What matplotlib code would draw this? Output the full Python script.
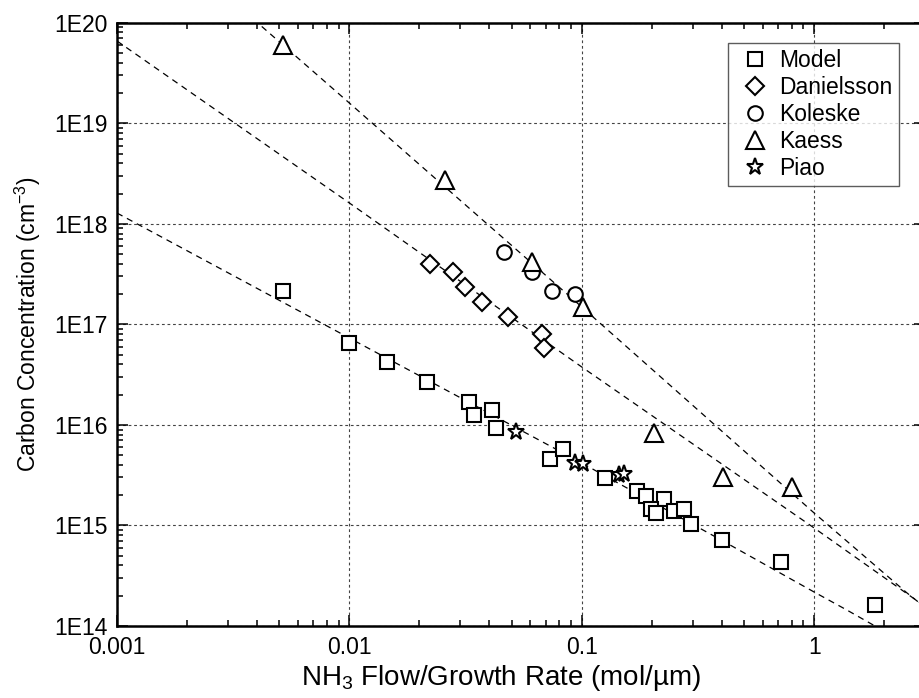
import numpy as np
import matplotlib
matplotlib.use('Agg')
import matplotlib.pyplot as plt
from matplotlib.ticker import FuncFormatter, LogLocator, NullFormatter

plt.rcParams['font.family'] = ['Liberation Sans', 'DejaVu Sans']
plt.rcParams['mathtext.fontset'] = 'custom'
plt.rcParams['mathtext.rm'] = 'Liberation Sans'

# data
model_x = [0.00519, 0.0100, 0.0145, 0.0216, 0.0327, 0.0344, 0.0411, 0.0428, 0.0731, 0.0832,
           0.126, 0.173, 0.189, 0.227, 0.199, 0.209, 0.250, 0.276, 0.296, 0.402, 0.721, 1.83]
model_y = [2.15e17, 6.5e16, 4.2e16, 2.67e16, 1.69e16, 1.25e16, 1.41e16, 9.3e15, 4.58e15, 5.75e15,
           2.96e15, 2.2e15, 1.96e15, 1.83e15, 1.46e15, 1.33e15, 1.39e15, 1.46e15, 1.03e15, 7.17e14,
           4.33e14, 1.62e14]
dan_x = [0.0222, 0.0279, 0.0315, 0.0372, 0.0482, 0.0675, 0.0689]
dan_y = [3.98e17, 3.32e17, 2.35e17, 1.67e17, 1.18e17, 8.0e16, 5.8e16]
kol_x = [0.0464, 0.0612, 0.0746, 0.0937]
kol_y = [5.25e17, 3.32e17, 2.15e17, 2.0e17]
kae_x = [0.00519, 0.0258, 0.0612, 0.1014, 0.205, 0.406, 0.805]
kae_y = [6.0e19, 2.73e18, 4.17e17, 1.49e17, 8.3e15, 3.03e15, 2.41e15]
piao_x = [0.0522, 0.0937, 0.1014, 0.145, 0.152]
piao_y = [8.5e15, 4.18e15, 4.08e15, 3.18e15, 3.25e15]

# dashed fit curves, read as points (log10 x, log10 y)
fit_model_lx = [-3.0, -2.0, -1.0, -0.4, 0.0, 0.14, 0.30]
fit_model_ly = [18.107, 16.864, 15.621, 14.855, 14.338, 14.16, 13.95]
fit_dan_lx = [-3.0, -2.0, -1.0, 0.0, 0.48]
fit_dan_ly = [19.818, 18.207, 16.576, 14.975, 14.19]
fit_kae_lx = [-2.45, -2.0, -1.0, 0.0, 0.40, 0.48]
fit_kae_ly = [20.11, 19.201, 17.173, 15.124, 14.328, 14.18]

fig = plt.figure(figsize=(9.2, 6.98), dpi=100)
ax = fig.add_axes([117 / 920, 72 / 698, (925 - 117) / 920, (626 - 22.7) / 698])
ax.set_xscale('log')
ax.set_yscale('log')
ax.set_xlim(0.001, 3)
ax.set_ylim(1e14, 1e20)

dash = dict(color='black', lw=0.9, linestyle=(0, (5, 4)))
for lx, ly in [(fit_model_lx, fit_model_ly), (fit_dan_lx, fit_dan_ly), (fit_kae_lx, fit_kae_ly)]:
    ax.plot(10 ** np.array(lx), 10 ** np.array(ly), **dash)

mk = dict(linestyle='none', markerfacecolor='white', markeredgecolor='black', markeredgewidth=1.5)
ax.plot(model_x, model_y, marker='s', markersize=9.5, label='Model', **mk)
ax.plot(dan_x, dan_y, marker='D', markersize=9, label='Danielsson', **mk)
ax.plot(kol_x, kol_y, marker='o', markersize=10.5, label='Koleske', **mk)
ax.plot(kae_x, kae_y, marker='^', markersize=12.5, label='Kaess', **mk)
ax.plot(piao_x, piao_y, marker='*', markersize=12.5, label='Piao', **mk)

ax.grid(True, which='major', color='#444444', lw=0.8, linestyle=(0, (2.5, 2.5)))
ax.set_axisbelow(True)

ax.xaxis.set_major_locator(LogLocator(base=10, numticks=10))
ax.xaxis.set_minor_locator(LogLocator(base=10, subs=np.arange(2, 10), numticks=20))
ax.yaxis.set_major_locator(LogLocator(base=10, numticks=10))
ax.yaxis.set_minor_locator(LogLocator(base=10, subs=np.arange(2, 10), numticks=20))
ax.xaxis.set_major_formatter(FuncFormatter(lambda v, p: '%g' % v))
ax.yaxis.set_major_formatter(FuncFormatter(lambda v, p: '1E%d' % round(np.log10(v))))
ax.xaxis.set_minor_formatter(NullFormatter())
ax.yaxis.set_minor_formatter(NullFormatter())
ax.tick_params(which='both', direction='in', top=True, right=True, labelsize=16.5, width=1.1)
ax.tick_params(which='major', length=8, pad=7)
ax.tick_params(which='minor', length=4.5)
for s in ax.spines.values():
    s.set_linewidth(1.8)

ax.set_xlabel(r'NH$\mathregular{_3}$ Flow/Growth Rate (mol/µm)', fontsize=20)
ax.xaxis.set_label_coords((501 - 117) / 808, -0.062)
ax.set_ylabel(r'Carbon Concentration (cm$\mathregular{^{-3}}$)', fontsize=16.5, labelpad=8)

leg = ax.legend(loc='upper right', bbox_to_anchor=(899 / 920, 1 - 43 / 698),
                bbox_transform=fig.transFigure, fontsize=16.5, frameon=True, fancybox=False,
                borderaxespad=0, labelspacing=0.17, handletextpad=0.2, borderpad=0.28,
                handlelength=1.75, numpoints=1)
leg.get_frame().set_edgecolor('#333333')
leg.get_frame().set_linewidth(1.0)

fig.savefig('out.png', dpi=100)
